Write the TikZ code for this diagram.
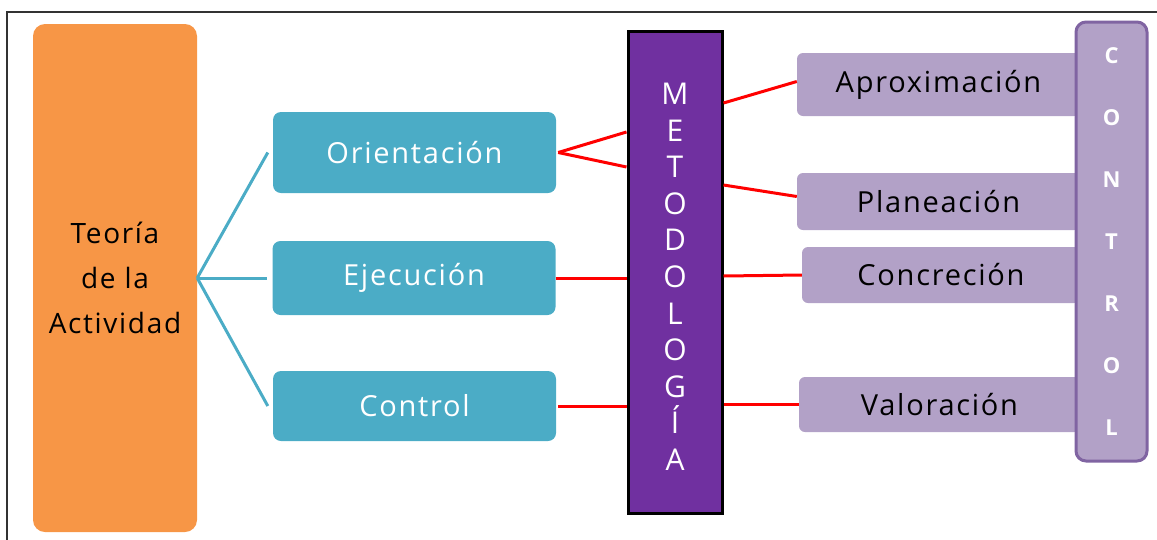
\documentclass[tikz,border=0pt]{standalone}
\usepackage{fontspec}
\setmainfont{Open Sans}[LetterSpace=6]
\usetikzlibrary{positioning, calc}
\definecolor{naranja}{HTML}{F79646}
\definecolor{azul}{HTML}{4BACC6}
\definecolor{morado}{HTML}{7030A0}
\definecolor{lila}{HTML}{B2A1C7}
\definecolor{lilaborde}{HTML}{8064A2}
\tikzstyle{box}=[rounded corners=8pt, align=center, inner sep=0pt,
                 font=\fontsize{29}{34}\selectfont]
\tikzstyle{fase}=[box, fill=azul, text=white, minimum width=283pt]
\tikzstyle{paso}=[box, fill=lila, rounded corners=6pt, minimum width=281pt]
\tikzstyle{rama}=[azul, line width=3pt]
\tikzstyle{enlace}=[red, line width=3pt]

\begin{document}
\begin{tikzpicture}[x=1pt, y=-1pt]
    \useasboundingbox (0,0) rectangle (1157,539);
    \draw[line width=1.5pt, black!80] (7,560) -- (7,12) -- (1180,12);
    % left column
    \node[box, fill=naranja, rounded corners=12pt, minimum width=164pt, minimum height=508pt,
          font=\fontsize{28}{45}\selectfont] (teo) at (115,278) {Teoría\\de la\\Actividad};
    % phases
    \node[fase, minimum height=81pt] (orient) at (414.5,152.5) {Orientación};
    \node[fase, minimum height=74pt] (ejec) at (414,278) {Ejecución};
    \node[fase, minimum height=70pt] (ctrl) at (414.5,406) {Control};
    % middle column
    \node[box, rounded corners=0pt, fill=morado, draw=black, line width=3pt, text=white,
          minimum width=94pt, minimum height=482pt, font=\fontsize{30}{36.6}\selectfont]
          (metod) at (675,272) {\rule{0pt}{31pt}M\\E\\T\\O\\D\\O\\L\\O\\G\\Í\\A};
    % steps, under the control bar
    \node[paso, minimum width=283pt, minimum height=63pt] (apro) at (938.5,84.5) {Aproximación};
    \node[paso, minimum width=283pt, minimum height=57pt] (plan) at (938.5,201.5) {Planeación};
    \node[paso, minimum width=278pt, minimum height=56pt] (conc) at (941,275) {Concreción};
    \node[paso, minimum width=281pt, minimum height=55pt] (val) at (939.5,404.5) {Valoración};
    % control bar
    \node[box, fill=lila, draw=lilaborde, line width=3pt, rounded corners=10pt, text=white,
          minimum width=71pt, minimum height=439pt, font=\fontsize{22}{62}\selectfont\bfseries]
          (barra) at (1111.5,241.5) {C\\O\\N\\T\\R\\O\\L};

    \draw[rama] (teo.east) -- ([xshift=-5pt]orient.west);
    \draw[rama] (teo.east) -- ([xshift=-5pt]ejec.west);
    \draw[rama] (teo.east) -- ([xshift=-5pt]ctrl.west);

    \draw[enlace] ([xshift=2pt]orient.east) -- ($(metod.north west)+(0,102.5)$);
    \draw[enlace] ([xshift=2pt]orient.east) -- ($(metod.north west)+(0,137.5)$);
    \draw[enlace] (ejec.east) -- (metod.west |- ejec.east);
    \draw[enlace] ([xshift=2pt]ctrl.east) -- (metod.west |- ctrl.east);
    \draw[enlace] ($(metod.north east)+(0,73.5)$) -- ([yshift=3pt]apro.west);
    \draw[enlace] ($(metod.north east)+(0,155.5)$) -- ([yshift=5pt]plan.west);
    \draw[enlace] ($(metod.north east)+(0,246.5)$) -- (conc.west);
    \draw[enlace] (metod.east |- val.west) -- (val.west);
\end{tikzpicture}
\end{document}
